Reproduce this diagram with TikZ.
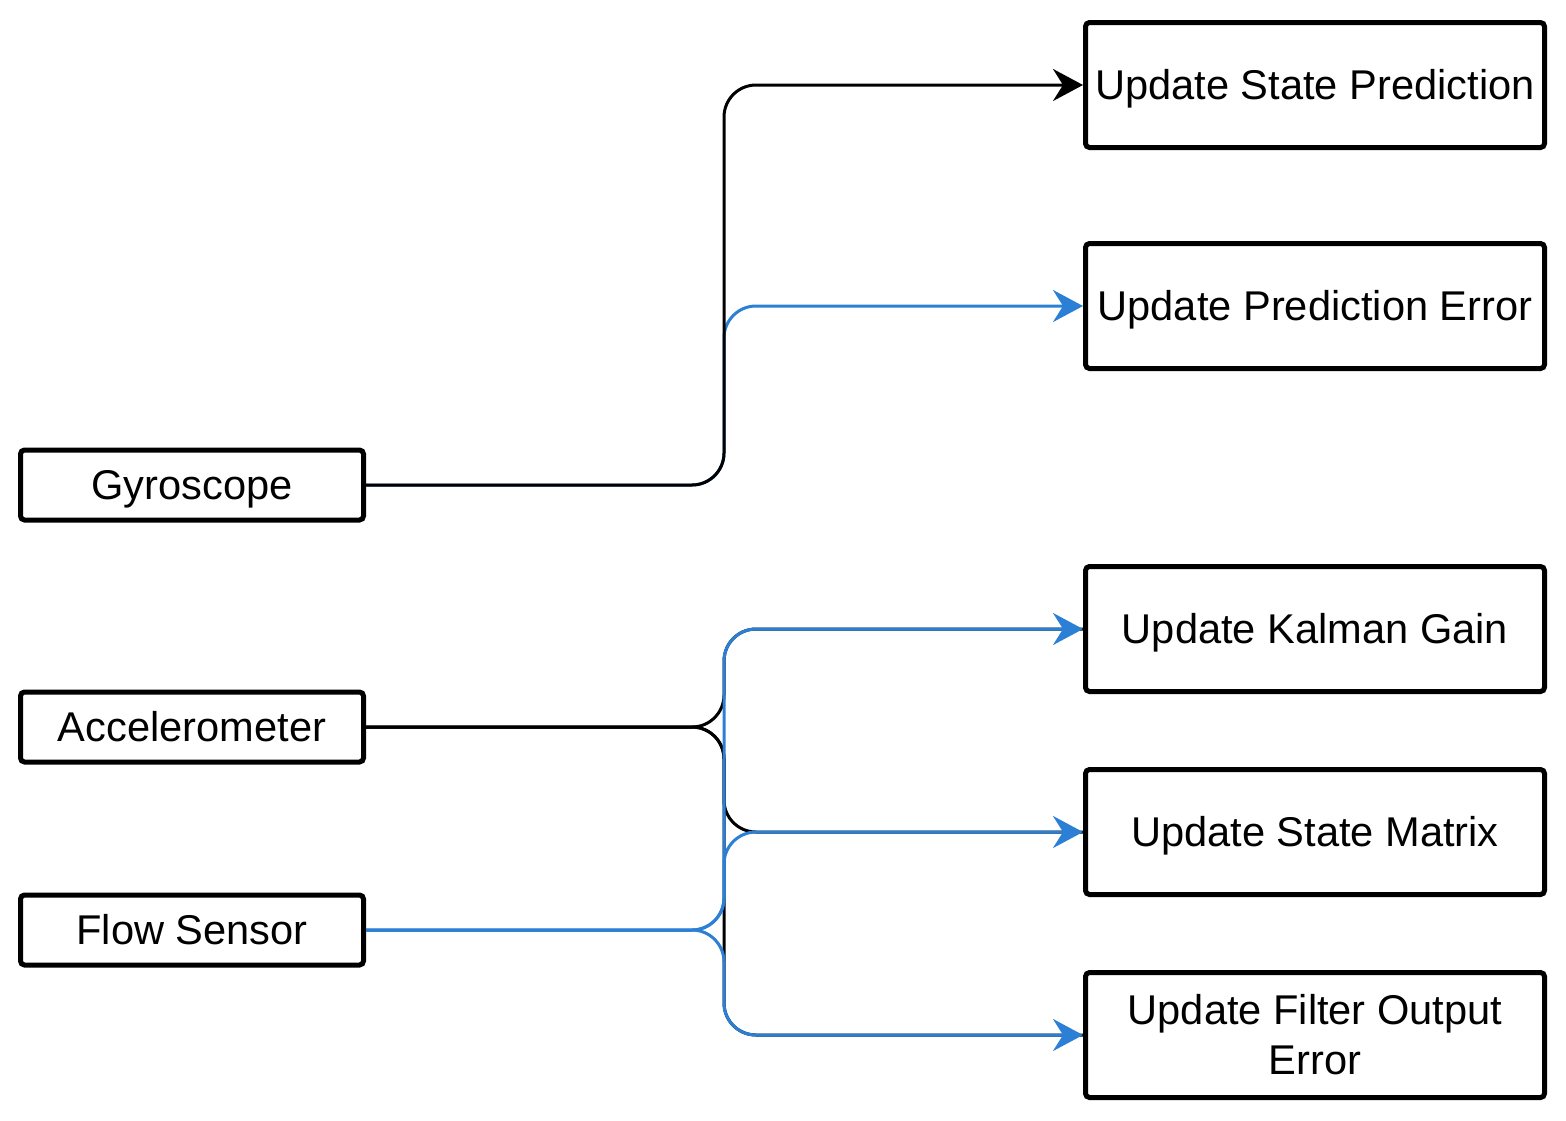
\documentclass[tikz,border=0pt]{standalone}
\usepackage{fontspec}
\setmainfont{Liberation Sans}
\usetikzlibrary{arrows.meta}
\definecolor{wireblue}{HTML}{2B80D5}
\tikzset{
	sensor/.style={draw, line width=2.5pt, rounded corners=2pt, fill=white, minimum width=171.5pt, minimum height=35pt, inner sep=0pt, text height=18.8pt, text depth=4.4pt, font=\fontsize{20.8}{25}\selectfont},
	stage/.style={draw, line width=2.5pt, rounded corners=2pt, fill=white, minimum width=229.5pt, minimum height=62.5pt, inner sep=0pt, align=center, font=\fontsize{20.8}{25}\selectfont},
	oneline/.style={text height=18.8pt, text depth=4.4pt},
	wire/.style={line width=1.5pt, rounded corners=16pt},
	tip/.style={-{Stealth[length=15pt,width=16pt,inset=5pt]}}
}
\begin{document}
\begin{tikzpicture}[x=0.5pt,y=0.5pt,yscale=-1,xscale=1]
	\useasboundingbox (0,0) rectangle (1566,1120);
	\node[sensor] (gyro) at (192,485) {Gyroscope};
	\node[sensor] (accel) at (192,727) {Accelerometer};
	\node[sensor] (flow) at (192,930) {Flow Sensor};

	\node[stage, oneline] (statepred) at (1315,85) {Update State Prediction};
	\node[stage, oneline] (prederr) at (1315,306) {Update Prediction Error};
	\node[stage, oneline] (kalman) at (1315,629) {Update Kalman Gain};
	\node[stage, oneline] (statemat) at (1315,832) {Update State Matrix};
	\node[stage] (filterout) at (1315,1035) {Update Filter Output\\Error};

	\coordinate (bus) at (724,0);

	\draw[wire, tip, wireblue] (gyro.east) -- (gyro.east -| bus) -- (prederr.west -| bus) -- (prederr.west);
	\draw[wire, tip] (gyro.east) -- (gyro.east -| bus) -- (statepred.west -| bus) -- (statepred.west);

	\draw[wire] (accel.east) -- (accel.east -| bus) -- (kalman.west -| bus) -- (kalman.west);
	\draw[wire] (accel.east) -- (accel.east -| bus) -- (statemat.west -| bus) -- (statemat.west);
	\draw[wire] (accel.east) -- (accel.east -| bus) -- (filterout.west -| bus) -- (filterout.west);

	\draw[wire, tip, wireblue] (flow.east) -- (flow.east -| bus) -- (kalman.west -| bus) -- (kalman.west);
	\draw[wire, tip, wireblue] (flow.east) -- (flow.east -| bus) -- (statemat.west -| bus) -- (statemat.west);
	\draw[wire, tip, wireblue] (flow.east) -- (flow.east -| bus) -- (filterout.west -| bus) -- (filterout.west);
\end{tikzpicture}
\end{document}
